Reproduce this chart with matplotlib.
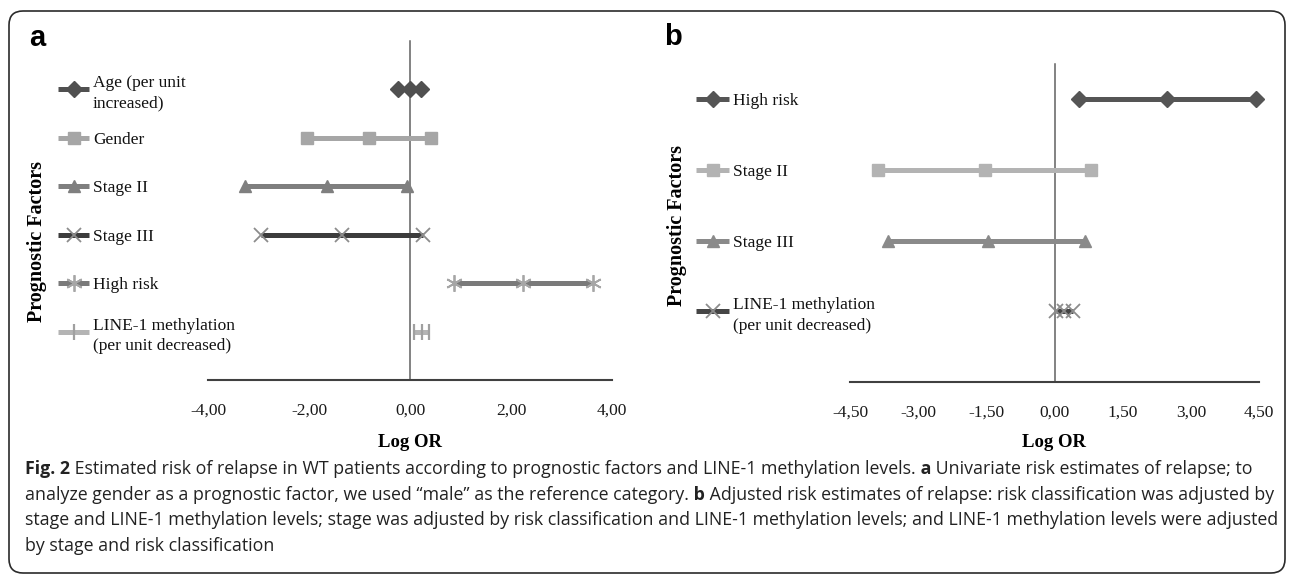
import matplotlib
matplotlib.use("Agg")
import matplotlib.pyplot as plt
from matplotlib.patches import FancyBboxPatch
from matplotlib.transforms import IdentityTransform
from matplotlib.ticker import FuncFormatter

# panel a: univariate log OR (low, estimate, high)
a_factors = ['Age (per unit\nincreased)', 'Gender', 'Stage II', 'Stage III', 'High risk',
             'LINE-1 methylation\n(per unit decreased)']
a_low = [-0.24, -2.04, -3.27, -2.96, 0.87, 0.07]
a_mid = [0.00, -0.81, -1.65, -1.34, 2.24, 0.23]
a_high = [0.22, 0.42, -0.05, 0.26, 3.62, 0.38]
a_ticks = [-4, -2, 0, 2, 4]

# panel b: adjusted log OR
b_factors = ['High risk', 'Stage II', 'Stage III', 'LINE-1 methylation\n(per unit decreased)']
b_low = [0.55, -3.89, -3.66, 0.04]
b_mid = [2.47, -1.53, -1.47, 0.22]
b_high = [4.43, 0.81, 0.67, 0.40]
b_ticks = [-4.5, -3, -1.5, 0, 1.5, 3, 4.5]

# (line colour, marker, marker colour, marker size, marker edge width)
a_styles = [('#505050', 'D', '#505050', 8, 1),
            ('#a6a6a6', 's', '#a6a6a6', 9, 1),
            ('#7f7f7f', '^', '#7f7f7f', 9, 1),
            ('#3c3c3c', 'x', '#8c8c8c', 10, 1.3),
            ('#7a7a7a', (6, 2, 0), '#a6a6a6', 12, 1.3),
            ('#b4b4b4', '|', '#a0a0a0', 11, 1.6)]
b_styles = [('#555555', 'D', '#555555', 8, 1),
            ('#b3b3b3', 's', '#b3b3b3', 9, 1),
            ('#8a8a8a', '^', '#8a8a8a', 9, 1),
            ('#454545', 'x', '#8c8c8c', 10, 1.3)]

W, H = 1293, 578
SERIF = 'Liberation Serif'
fig = plt.figure(figsize=(W / 100, H / 100), dpi=100)


def box(x0, x1, top, bottom):
    return [x0 / W, 1 - bottom / H, (x1 - x0) / W, (bottom - top) / H]


def comma_fmt(v, pos):
    return ('%.2f' % v).replace('.', ',')


def forest(rect, leg_rect, leg_w, factors, low, mid, high, styles, ticks, ytop,
           letter, letter_xy, ylab_xy, xlab_y):
    ax = fig.add_axes(rect)
    n = len(factors)
    rows = [n - i for i in range(n)]
    for i in range(n):
        lc, mk, mc, ms, mew = styles[i]
        ax.plot([low[i], mid[i], high[i]], [rows[i]] * 3, color=lc, lw=3.6,
                marker=mk, mfc=mc, mec=mc, ms=ms, mew=mew, clip_on=False,
                solid_capstyle='butt', zorder=3)
    lim = ticks[-1]
    ax.set_xlim(-lim, lim)
    ax.set_ylim(0, ytop)
    ax.set_xticks(ticks)
    ax.xaxis.set_major_formatter(FuncFormatter(comma_fmt))
    ax.set_yticks([])
    for s in ['top', 'right']:
        ax.spines[s].set_visible(False)
    ax.spines['left'].set_position(('data', 0))
    ax.spines['left'].set_color('#606060')
    ax.spines['left'].set_linewidth(1.1)
    ax.spines['bottom'].set_color('#404040')
    ax.spines['bottom'].set_linewidth(1.5)
    ax.tick_params(axis='x', length=0, pad=16, labelsize=12.5, labelcolor='#1a1a1a')
    for t in ax.get_xticklabels():
        t.set_fontfamily(SERIF)
    ax.set_xlabel('Log OR', fontfamily=SERIF, fontweight='bold', fontsize=13.5, va='center')
    ax.xaxis.set_label_coords(0.5, xlab_y)
    ax.patch.set_alpha(0)

    # legend, one entry next to each row
    lax = fig.add_axes(leg_rect, sharey=ax)
    lax.set_xlim(0, leg_rect[2] * W)
    lax.axis('off')
    for i in range(n):
        lc, mk, mc, ms, mew = styles[i]
        lax.plot([0, leg_w / 2, leg_w], [rows[i]] * 3, color=lc, lw=3.6,
                 marker=mk, mfc=mc, mec=mc, ms=ms, mew=mew, markevery=[1],
                 solid_capstyle='butt', clip_on=False)
        lax.text(leg_w + 4, rows[i], factors[i], fontfamily=SERIF, fontsize=12.5,
                 va='center_baseline', ha='left', linespacing=1.35, color='#111111')

    fig.text(letter_xy[0] / W, 1 - letter_xy[1] / H, letter, fontsize=21,
             fontweight='bold', fontfamily='Liberation Sans', va='center', ha='center')
    fig.text(ylab_xy[0] / W, 1 - ylab_xy[1] / H, 'Prognostic Factors', rotation=90,
             fontfamily=SERIF, fontweight='bold', fontsize=14.5, va='center', ha='center')
    return ax


forest(box(208, 612, 41, 380), box(58, 300, 41, 380), 31, a_factors, a_low, a_mid, a_high,
       a_styles, a_ticks, 7, 'a', (37, 38), (37, 242), -0.183)
forest(box(850, 1259, 64, 382), box(696, 840, 64, 382), 33, b_factors, b_low, b_mid, b_high,
       b_styles, b_ticks, 4.5, 'b', (673, 37), (677, 226), -0.189)

# rounded frame round the whole figure
frame = FancyBboxPatch((9, 5), 1276, 562, boxstyle='round,pad=0,rounding_size=14',
                       transform=IdentityTransform(), fill=False, ec='#2b2b2b', lw=1.2)
fig.patches.append(frame)

# caption, drawn run by run so the bold parts can be set
caption = [
    [('Fig. 2', 'bold'), (' Estimated risk of relapse in WT patients according to prognostic factors '
                          'and LINE-1 methylation levels.', 'normal'),
     (' a', 'bold'), (' Univariate risk estimates of relapse; to', 'normal')],
    [('analyze gender as a prognostic factor, we used \u201cmale\u201d as the reference category.', 'normal'),
     (' b', 'bold'), (' Adjusted risk estimates of relapse: risk classification was adjusted by', 'normal')],
    [('stage and LINE-1 methylation levels; stage was adjusted by risk classification and LINE-1 '
      'methylation levels; and LINE-1 methylation levels were adjusted', 'normal')],
    [('by stage and risk classification', 'normal')],
]
cap_base = [474, 500, 525, 551]
renderer = fig.canvas.get_renderer()
for line, yb in zip(caption, cap_base):
    x = 25
    for txt, wt in line:
        t = fig.text(x / W, 1 - yb / H, txt, fontfamily='Open Sans', fontweight=wt,
                     fontsize=12.75, va='baseline', ha='left', color='#222222')
        x += t.get_window_extent(renderer).width

fig.savefig('out.png', dpi=100)
